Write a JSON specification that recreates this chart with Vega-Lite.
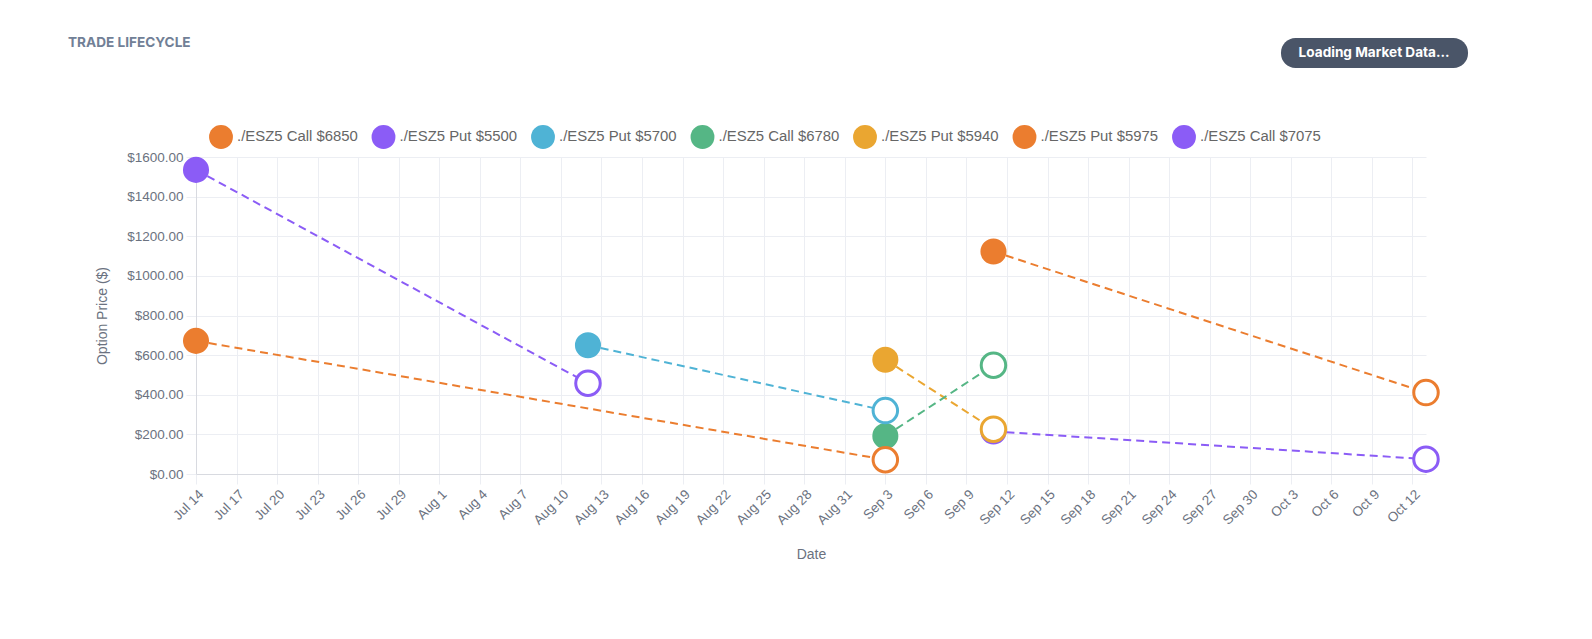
{
  "$schema": "https://vega.github.io/schema/vega-lite/v6.json",
  "width": 1230,
  "height": 317,
  "autosize": {"type": "none"},
  "padding": {"left": 196, "top": 157, "right": 166, "bottom": 165},
  "background": "#ffffff",
  "title": {
    "text": "TRADE LIFECYCLE",
    "anchor": "start",
    "frame": "group",
    "orient": "top",
    "font": "Inter",
    "fontSize": 13.6,
    "fontWeight": "bold",
    "color": "#718096",
    "offset": 0,
    "dx": -128,
    "dy": 12
  },
  "data": {
    "values": [
      {"series": "./ESZ5 Call $7075", "date": "2025-09-11", "price": 215, "event": "open"},
      {"series": "./ESZ5 Call $7075", "date": "2025-10-13", "price": 75, "event": "close"},
      {"series": "./ESZ5 Put $5975", "date": "2025-09-11", "price": 1123, "event": "open"},
      {"series": "./ESZ5 Put $5975", "date": "2025-10-13", "price": 411, "event": "close"},
      {"series": "./ESZ5 Put $5940", "date": "2025-09-03", "price": 577, "event": "open"},
      {"series": "./ESZ5 Put $5940", "date": "2025-09-11", "price": 226, "event": "close"},
      {"series": "./ESZ5 Call $6780", "date": "2025-09-03", "price": 192, "event": "open"},
      {"series": "./ESZ5 Call $6780", "date": "2025-09-11", "price": 549, "event": "close"},
      {"series": "./ESZ5 Put $5700", "date": "2025-08-12", "price": 650, "event": "open"},
      {"series": "./ESZ5 Put $5700", "date": "2025-09-03", "price": 320, "event": "close"},
      {"series": "./ESZ5 Put $5500", "date": "2025-07-14", "price": 1535, "event": "open"},
      {"series": "./ESZ5 Put $5500", "date": "2025-08-12", "price": 458, "event": "close"},
      {"series": "./ESZ5 Call $6850", "date": "2025-07-14", "price": 672, "event": "open"},
      {"series": "./ESZ5 Call $6850", "date": "2025-09-03", "price": 72, "event": "close"}
    ]
  },
  "encoding": {
    "x": {
      "field": "date",
      "type": "temporal",
      "title": "Date",
      "scale": {
        "type": "utc",
        "nice": false,
        "domain": [
          {"year": 2025, "month": 7, "date": 14, "utc": true},
          {"year": 2025, "month": 10, "date": 13, "utc": true}
        ]
      },
      "axis": {
        "values": [
          {"year": 2025, "month": 7, "date": 14, "utc": true},
          {"year": 2025, "month": 7, "date": 17, "utc": true},
          {"year": 2025, "month": 7, "date": 20, "utc": true},
          {"year": 2025, "month": 7, "date": 23, "utc": true},
          {"year": 2025, "month": 7, "date": 26, "utc": true},
          {"year": 2025, "month": 7, "date": 29, "utc": true},
          {"year": 2025, "month": 8, "date": 1, "utc": true},
          {"year": 2025, "month": 8, "date": 4, "utc": true},
          {"year": 2025, "month": 8, "date": 7, "utc": true},
          {"year": 2025, "month": 8, "date": 10, "utc": true},
          {"year": 2025, "month": 8, "date": 13, "utc": true},
          {"year": 2025, "month": 8, "date": 16, "utc": true},
          {"year": 2025, "month": 8, "date": 19, "utc": true},
          {"year": 2025, "month": 8, "date": 22, "utc": true},
          {"year": 2025, "month": 8, "date": 25, "utc": true},
          {"year": 2025, "month": 8, "date": 28, "utc": true},
          {"year": 2025, "month": 8, "date": 31, "utc": true},
          {"year": 2025, "month": 9, "date": 3, "utc": true},
          {"year": 2025, "month": 9, "date": 6, "utc": true},
          {"year": 2025, "month": 9, "date": 9, "utc": true},
          {"year": 2025, "month": 9, "date": 12, "utc": true},
          {"year": 2025, "month": 9, "date": 15, "utc": true},
          {"year": 2025, "month": 9, "date": 18, "utc": true},
          {"year": 2025, "month": 9, "date": 21, "utc": true},
          {"year": 2025, "month": 9, "date": 24, "utc": true},
          {"year": 2025, "month": 9, "date": 27, "utc": true},
          {"year": 2025, "month": 9, "date": 30, "utc": true},
          {"year": 2025, "month": 10, "date": 3, "utc": true},
          {"year": 2025, "month": 10, "date": 6, "utc": true},
          {"year": 2025, "month": 10, "date": 9, "utc": true},
          {"year": 2025, "month": 10, "date": 12, "utc": true}
        ],
        "format": "%b %-d",
        "labelAngle": -45,
        "labelAlign": "right",
        "labelBaseline": "top",
        "labelPadding": 3,
        "labelOverlap": false,
        "labelFlush": false,
        "labelBound": false,
        "labelFontSize": 13.5,
        "labelColor": "#6b7280",
        "tickSize": 10,
        "tickColor": "#eceef3",
        "gridColor": "#eceef3",
        "domainColor": "#d8dae0",
        "titleFontSize": 14,
        "titleFontWeight": "normal",
        "titleColor": "#6b7280",
        "titlePadding": 21
      }
    },
    "y": {
      "field": "price",
      "type": "quantitative",
      "title": "Option Price ($)",
      "scale": {"domain": [0, 1600], "nice": false},
      "axis": {
        "values": [0, 200, 400, 600, 800, 1000, 1200, 1400, 1600],
        "format": "$.2f",
        "labelFontSize": 13.5,
        "labelColor": "#6b7280",
        "labelPadding": 3,
        "tickSize": 10,
        "tickColor": "#eceef3",
        "gridColor": "#eceef3",
        "domainColor": "#d8dae0",
        "titleFontSize": 14,
        "titleFontWeight": "normal",
        "titleColor": "#6b7280",
        "titlePadding": 17
      }
    },
    "color": {
      "field": "series",
      "type": "nominal",
      "scale": {
        "domain": ["./ESZ5 Call $6850", "./ESZ5 Put $5500", "./ESZ5 Put $5700", "./ESZ5 Call $6780", "./ESZ5 Put $5940", "./ESZ5 Put $5975", "./ESZ5 Call $7075"],
        "range": ["#eb7d2f", "#8b5cf6", "#4fb3d5", "#55b685", "#eaa631", "#eb7d2f", "#8b5cf6"]
      },
      "legend": {
        "orient": "none",
        "legendX": 13,
        "legendY": -32,
        "direction": "horizontal",
        "columns": 7,
        "title": null,
        "padding": 0,
        "symbolType": "circle",
        "symbolSize": 570,
        "symbolStrokeWidth": 0,
        "labelFontSize": 14.9,
        "labelColor": "#666666",
        "labelOffset": 4,
        "labelLimit": 300,
        "columnPadding": 13.5,
        "encode": {
          "symbols": {
            "update": {
              "fill": {"scale": "color", "field": "value"},
              "stroke": {"value": "transparent"},
              "opacity": {"value": 1}
            }
          }
        }
      }
    }
  },
  "layer": [
    {
      "mark": {"type": "line", "strokeDash": [8, 5], "strokeWidth": 2}
    },
    {
      "transform": [{"filter": "datum.event === 'open'"}],
      "mark": {"type": "point", "filled": true, "size": 680, "opacity": 1, "strokeWidth": 0},
      "encoding": {
        "shape": {
          "datum": "Loading Market Data...",
          "scale": {"range": ["circle"]},
          "legend": {
            "orient": "none",
            "legendX": 1085,
            "legendY": -119,
            "title": " ",
            "titleOrient": "right",
            "titlePadding": 10,
            "titleFontSize": 13,
            "padding": 8,
            "fillColor": "#4a5568",
            "cornerRadius": 14.5,
            "symbolSize": 1,
            "symbolOpacity": 0,
            "symbolStrokeWidth": 0,
            "labelOffset": -4,
            "labelColor": "#ffffff",
            "labelFont": "Inter",
            "labelFontWeight": "bold",
            "labelFontSize": 13.6,
            "labelLimit": 300
          }
        }
      }
    },
    {
      "transform": [{"filter": "datum.event === 'close'"}],
      "mark": {"type": "point", "filled": false, "fill": "#ffffff", "size": 600, "opacity": 1, "strokeWidth": 3}
    }
  ],
  "config": {
    "font": "Liberation Sans",
    "view": {"stroke": null, "fill": "#ffffff"}
  }
}
